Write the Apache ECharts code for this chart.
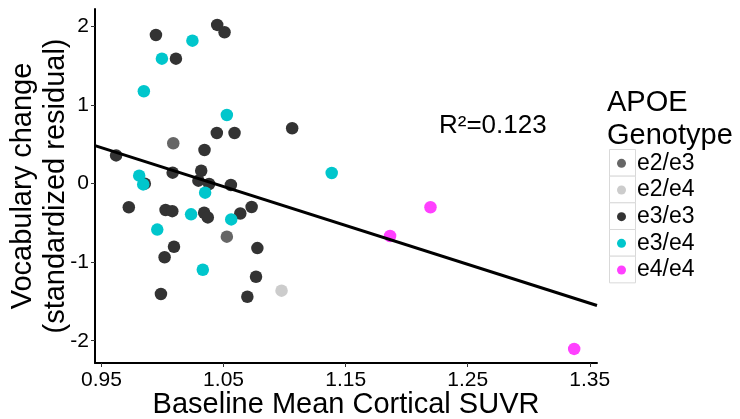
<!DOCTYPE html>
<html>
<head>
<meta charset="utf-8">
<script src="https://cdn.jsdelivr.net/npm/echarts@6/dist/echarts.min.js"></script>
<style>
html,body{margin:0;padding:0;background:#fff;}
#chart{width:740px;height:419px;}
</style>
</head>
<body>
<div id="chart"></div>
<script>
// ---- data ----
const genotypes = ['e2/e3', 'e2/e4', 'e3/e3', 'e3/e4', 'e4/e4'];
const colors = ['#666666', '#cccccc', '#333333', '#00c6cc', '#ff40ff'];

const e2e3 = [[1.0088, 0.515], [1.0527, -0.675]];
const e2e4 = [[1.0975, -1.363]];
const e3e3 = [
  [0.9946, 1.894], [1.0448, 2.022], [1.0508, 1.929], [1.0110, 1.592],
  [1.0445, 0.646], [1.0590, 0.646], [1.1062, 0.706], [1.0344, 0.429],
  [0.9620, 0.360], [0.9855, 0.000], [1.0083, 0.140], [1.0317, 0.165],
  [1.0294, 0.038], [1.0382, -0.004], [1.0560, -0.017], [0.9724, -0.300],
  [1.0025, -0.335], [1.0080, -0.350], [1.0341, -0.370], [1.0371, -0.430],
  [1.0637, -0.380], [1.0730, -0.297], [1.0094, -0.803], [1.0777, -0.820],
  [1.0017, -0.937], [1.0766, -1.185], [0.9987, -1.405], [1.0695, -1.440]
];
const e3e4 = [
  [1.0245, 1.822], [0.9995, 1.592], [0.9847, 1.177], [1.0527, 0.875],
  [1.1386, 0.136], [0.9809, 0.102], [0.9842, -0.009], [1.0349, -0.114],
  [1.0234, -0.390], [1.0563, -0.455], [0.9957, -0.585], [1.0330, -1.096]
];
const e4e4 = [[1.1864, -0.666], [1.2195, -0.300], [1.3372, -2.105]];

const fitX = [0.9447, 1.3559];
const fitY = [0.484, -1.552];

const xTicks = [0.95, 1.05, 1.15, 1.25, 1.35];
const yTicks = [-2, -1, 0, 1, 2];
const xRange = [0.9447, 1.3559];
const yRange = [-2.284, 2.225];

const r2Label = 'R\u00B2=0.123';
const xTitle = 'Baseline Mean Cortical SUVR';
const yTitle = 'Vocabulary change\n(standardized residual)';
const legendTitle = 'APOE\nGenotype';

// ---- chart ----
const FONT = '"Liberation Sans", Arial, sans-serif';
const groups = [e2e3, e2e4, e3e3, e3e4, e4e4];
const chart = echarts.init(document.getElementById('chart'), null, {renderer: 'canvas'});

const series = genotypes.map((g, i) => ({
  name: g,
  type: 'scatter',
  data: groups[i],
  symbol: 'circle',
  symbolSize: 12.5,
  itemStyle: {color: colors[i], opacity: 1},
  emphasis: {disabled: true},
  silent: true
}));
series.push({
  name: 'fit',
  type: 'line',
  data: fitX.map((x, i) => [x, fitY[i]]),
  symbol: 'none',
  lineStyle: {color: '#000', width: 3},
  silent: true,
  z: 5
});

const legendTop = 149, legendRow = 26.67;
const keyBoxes = genotypes.map((g, i) => ({
  type: 'rect',
  left: 609,
  top: legendTop + i * legendRow,
  shape: {width: 26, height: legendRow},
  style: {fill: '#fff', stroke: '#d9d9d9', lineWidth: 1},
  z: -1
}));

chart.setOption({
  animation: false,
  backgroundColor: '#fff',
  textStyle: {fontFamily: FONT},
  grid: {left: 95, right: 143, top: 9, bottom: 56, containLabel: false, outerBoundsMode: 'none'},
  xAxis: {
    type: 'value',
    min: xRange[0], max: xRange[1],
    axisLine: {onZero: false, lineStyle: {color: '#000', width: 2}},
    axisTick: {customValues: xTicks, length: 4, lineStyle: {color: '#333', width: 1}},
    axisLabel: {customValues: xTicks, formatter: v => v.toFixed(2), fontSize: 21, color: '#000', margin: 7, fontFamily: FONT},
    splitLine: {show: false},
    name: xTitle, nameLocation: 'middle', nameGap: 27, nameMoveOverlap: false,
    nameTextStyle: {fontSize: 29, color: '#000', fontFamily: FONT}
  },
  yAxis: {
    type: 'value',
    min: yRange[0], max: yRange[1],
    axisLine: {onZero: false, lineStyle: {color: '#000', width: 2}},
    axisTick: {customValues: yTicks, length: 4, lineStyle: {color: '#333', width: 1}},
    axisLabel: {customValues: yTicks, formatter: v => String(v), fontSize: 21, color: '#000', margin: 6, fontFamily: FONT},
    splitLine: {show: false},
    name: yTitle, nameLocation: 'middle', nameGap: 23, nameRotate: 90, nameMoveOverlap: false,
    nameTextStyle: {fontSize: 29, lineHeight: 33, color: '#000', fontFamily: FONT, align: 'center'}
  },
  legend: {
    data: genotypes,
    orient: 'vertical',
    left: 617, top: legendTop + 1,
    itemWidth: 21, itemHeight: 9, itemGap: 0,
    icon: 'circle',
    selectedMode: false,
    padding: 0,
    textStyle: {fontSize: 23, color: '#000', lineHeight: legendRow, fontFamily: FONT}
  },
  graphic: [
    {type: 'text', left: 439, top: 113, style: {text: r2Label, font: '26px ' + FONT, fill: '#000'}},
    {type: 'text', left: 607, top: 86, style: {text: legendTitle, font: '29px ' + FONT, lineHeight: 33, fill: '#000'}}
  ].concat(keyBoxes),
  series: series
});
</script>
</body>
</html>
